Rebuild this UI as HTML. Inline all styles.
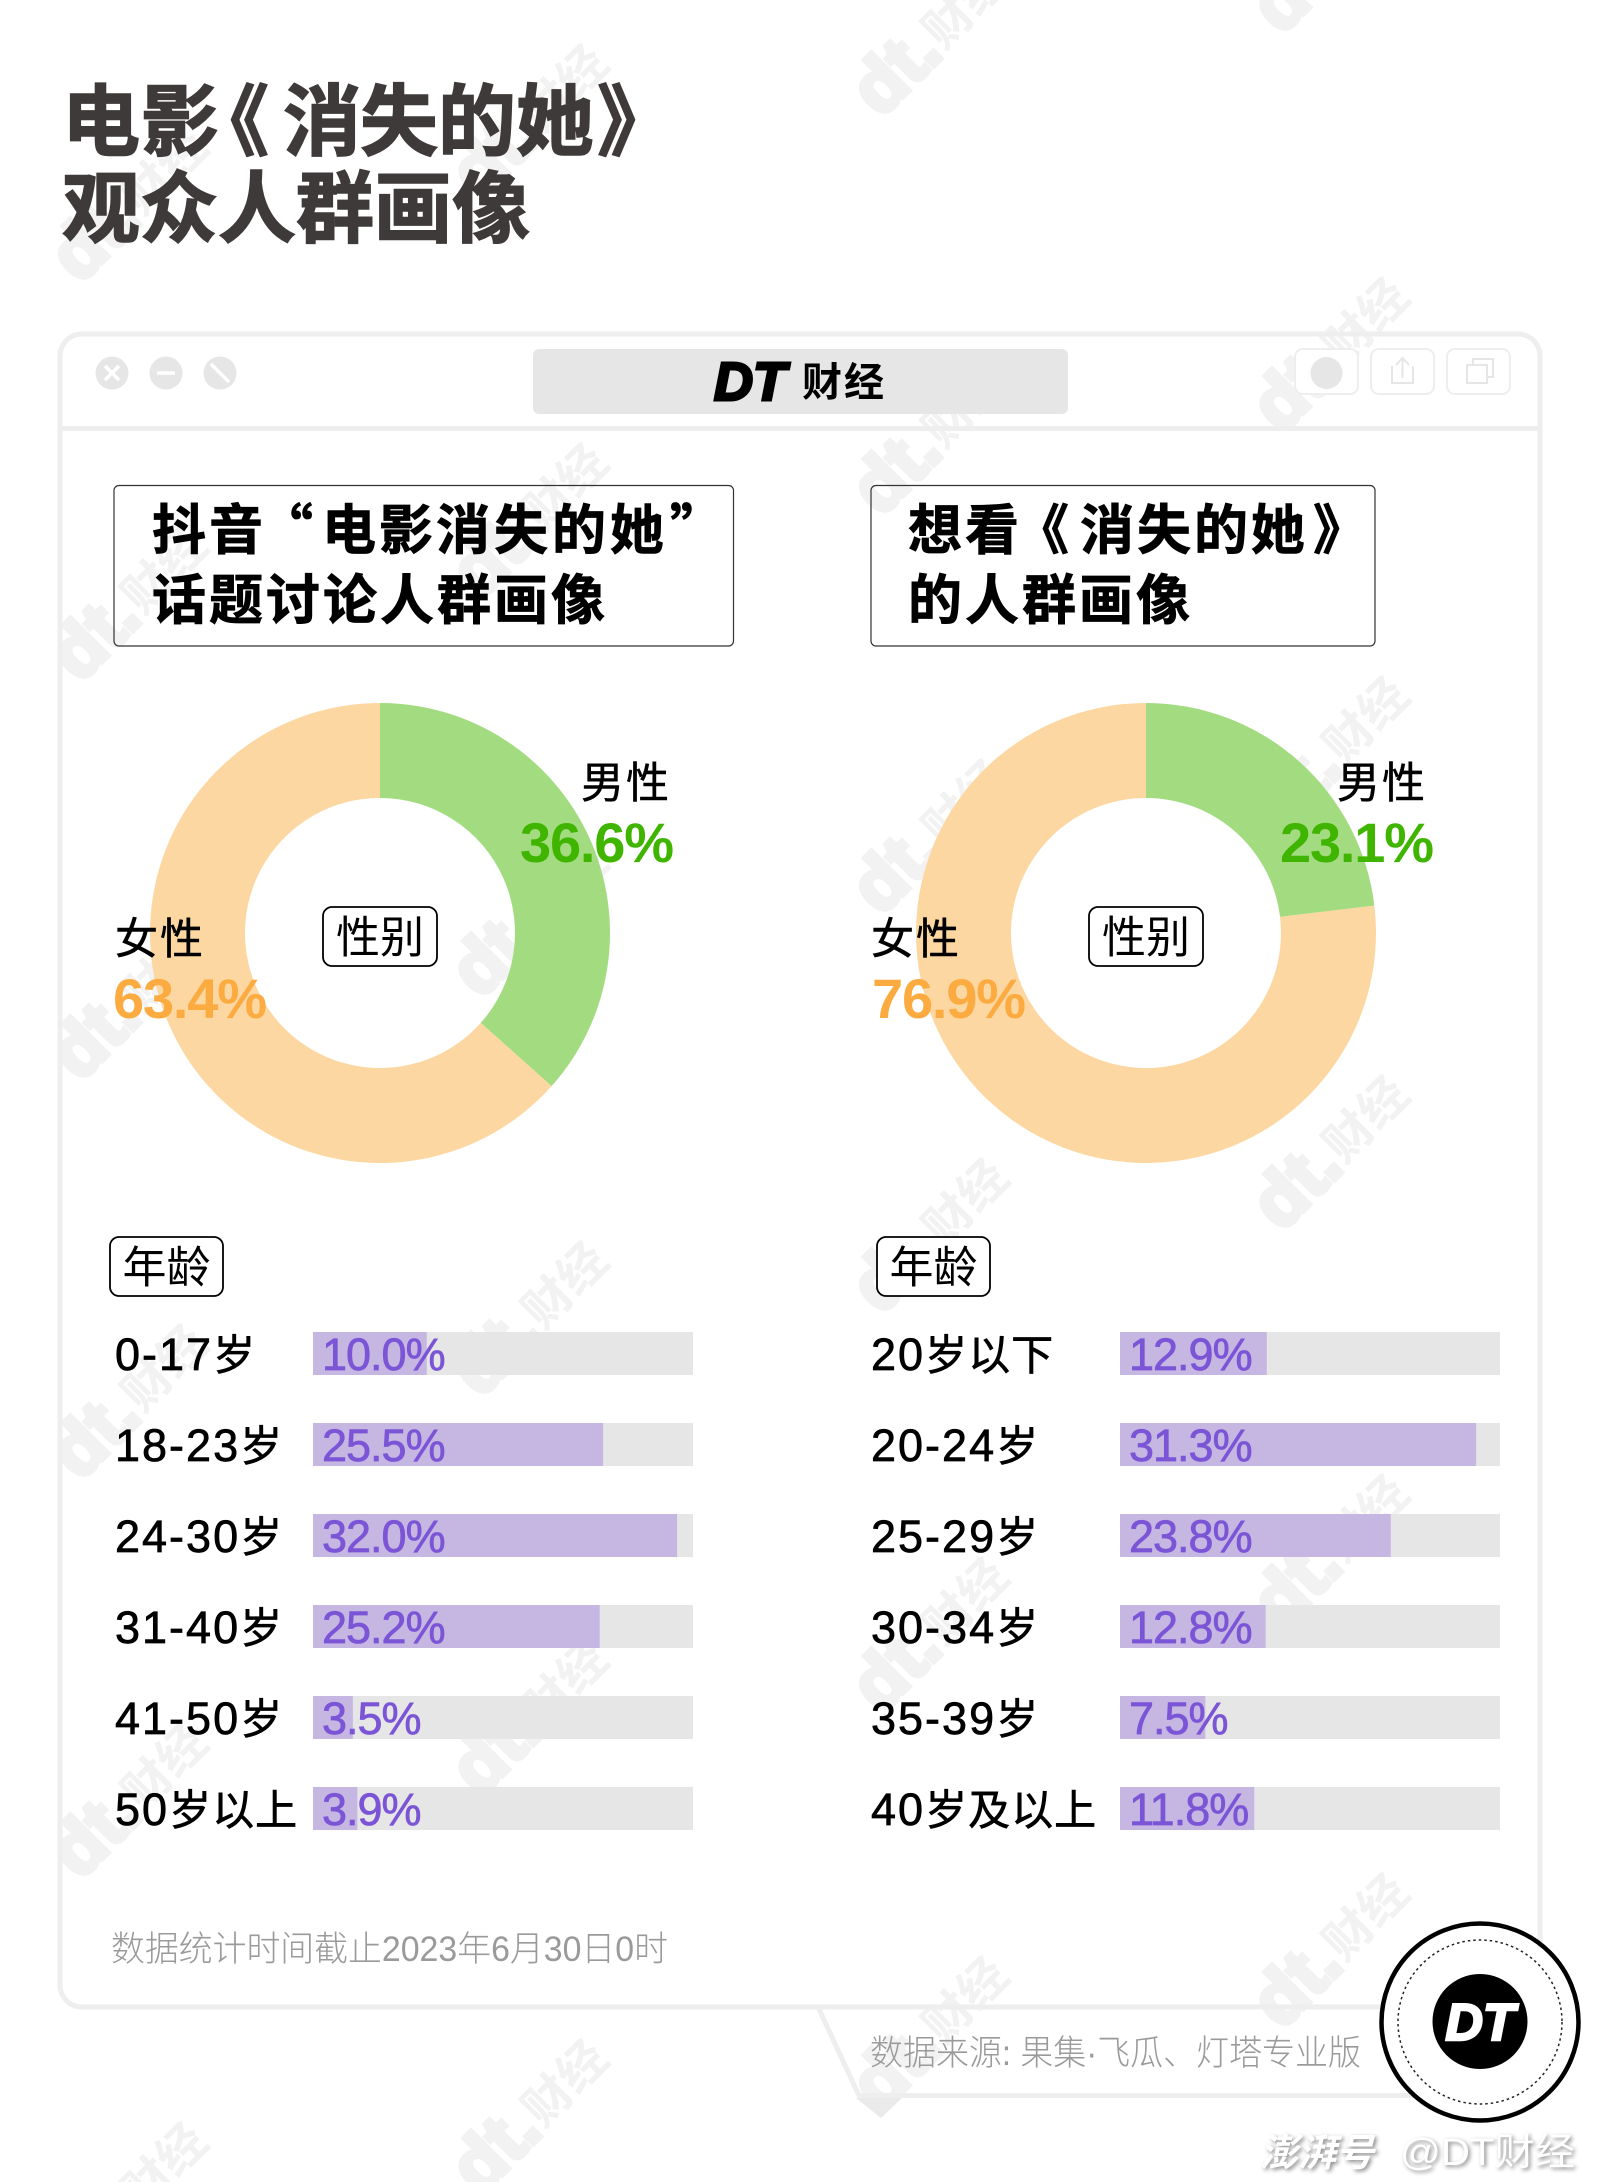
<!DOCTYPE html>
<html lang="zh">
<head>
<meta charset="utf-8">
<title>电影《消失的她》观众人群画像</title>
<style>
html,body{margin:0;padding:0;background:#fff;}
body{width:1601px;height:2182px;overflow:hidden;}
svg{display:block;}
text{font-family:"Liberation Sans","Noto Sans CJK SC",sans-serif;}
.cjk{font-family:"Noto Sans CJK SC","WenQuanYi Zen Hei",sans-serif;}
.heavy{font-family:"Noto Sans CJK SC",sans-serif;font-weight:700;}
.logo{font-family:"Liberation Sans",sans-serif;font-weight:700;font-style:italic;}
.thin{font-family:"Liberation Sans","Noto Sans CJK SC",sans-serif;font-weight:300;fill:#9a9a9a;}
</style>
</head>
<body>
<svg id="root" xmlns="http://www.w3.org/2000/svg" width="1601" height="2182" viewBox="0 0 1601 2182">
  <rect width="1601" height="2182" fill="#ffffff"/>

  <g id="watermarks"></g>

  <g class="heavy" fill="#3e3a39" stroke="#3e3a39" stroke-width="1.500" font-size="78">
    <text class="heavy" x="62 141 191 283 360 438 516 597" y="149">电影《消失的她》</text>
    <text class="heavy" x="62 140 218 296 374 452" y="236">观众人群画像</text>
  </g>

  <g>
    <rect x="60" y="334" width="1480" height="1673" rx="22" fill="none" stroke="#eeeeee" stroke-width="5"/>
    <line x1="60" y1="428.500" x2="1540" y2="428.500" stroke="#eeeeee" stroke-width="5"/>
    <g>
      <circle cx="112" cy="373" r="16.500" fill="#e6e6e6"/>
      <path d="M105 366l14 14M119 366l-14 14" stroke="#fff" stroke-width="3.500" fill="none"/>
    </g>
    <g>
      <circle cx="166" cy="373" r="16.500" fill="#e6e6e6"/>
      <path d="M157 373h18" stroke="#fff" stroke-width="3.500" fill="none"/>
    </g>
    <g>
      <circle cx="220" cy="373" r="16.500" fill="#e6e6e6"/>
      <path d="M211 364l18 18" stroke="#fff" stroke-width="3.500" fill="none"/>
    </g>
    <rect x="533" y="349" width="535" height="65" rx="6" fill="#e6e6e6"/>
    <text class="logo" x="714" y="400" font-size="54" fill="#000" stroke="#000" stroke-width="3">DT</text>
    <text class="heavy" x="802 844" y="396" font-size="40" fill="#000">财经</text>
    <g>
      <rect x="1295" y="349" width="63" height="45" rx="8" fill="#fff" stroke="#eeeeee" stroke-width="2"/>
      <circle cx="1326.500" cy="373" r="16" fill="#e6e6e6"/>
    </g>
    <g>
      <rect x="1371" y="349" width="63" height="45" rx="8" fill="#fff" stroke="#eeeeee" stroke-width="2"/>
      <path d="M1393 367h-1v16h21v-16h-1M1402.500 378v-19M1396 365l6.500-7 6.500 7" fill="none" stroke="#e6e6e6" stroke-width="2"/>
    </g>
    <g>
      <rect x="1447" y="349" width="63" height="45" rx="8" fill="#fff" stroke="#eeeeee" stroke-width="2"/>
      <path d="M1467 365h20v18h-20zM1473 365v-6h20v18h-6" fill="none" stroke="#e6e6e6" stroke-width="2"/>
    </g>
  </g>

  <g stroke="#000" stroke-width="0.800">
    <rect x="114" y="485.500" width="619.500" height="160.500" rx="5" fill="none" stroke="#333" stroke-width="1.200"/>
    <text class="heavy" x="152 209 259 322 379 436 494 552 610 670" y="549" font-size="54" fill="#000">抖音“电影消失的她”</text>
    <text class="heavy" x="152 209 266 323 380 437 494 551" y="619" font-size="54" fill="#000">话题讨论人群画像</text>
  </g>
  <g stroke="#000" stroke-width="0.800">
    <rect x="871" y="485.500" width="504" height="160.500" rx="5" fill="none" stroke="#333" stroke-width="1.200"/>
    <text class="heavy" x="908 965 1015 1080 1137 1194 1251 1313" y="549" font-size="54" fill="#000">想看《消失的她》</text>
    <text class="heavy" x="908 965 1022 1079 1136" y="619" font-size="54" fill="#000">的人群画像</text>
  </g>

  <g id="charts"></g>

  <text class="thin" x="111" y="1961" font-size="35" textLength="557" lengthAdjust="spacingAndGlyphs">数据统计时间截止2023年6月30日0时</text>

  <g>
    <path d="M818 2007L859 2095.500H1420" fill="none" stroke="#eeeeee" stroke-width="5"/>
    <path d="M856 2098H902L881 2118Z" fill="#eaeaea"/>
    <text class="thin" x="870" y="2065" font-size="35" textLength="491" lengthAdjust="spacingAndGlyphs">数据来源: 果集·飞瓜、灯塔专业版</text>
  </g>

  <g>
    <circle cx="1480" cy="2022" r="98.500" fill="#fff" stroke="#000" stroke-width="4.500"/>
    <circle cx="1480" cy="2022" r="82" fill="none" stroke="#222" stroke-width="1.500" stroke-dasharray="2.500 3"/>
    <circle cx="1480" cy="2021.500" r="47.500" fill="#000"/>
    <text class="logo" x="1480" y="2040" text-anchor="middle" font-size="52" fill="#fff" stroke="#fff" stroke-width="2.500">DT</text>
  </g>

  <g style="filter:drop-shadow(2px 2px 2px #8a8a8a)">
    <text class="heavy" x="1260" y="2166" font-size="38" font-style="italic" fill="#fff">澎湃号</text>
    <text x="1400" y="2165" font-size="38" fill="#fff" textLength="175" lengthAdjust="spacingAndGlyphs">@DT财经</text>
  </g>
</svg>

<script>
// ---- chart data ----
const genderNames = ['男性', '女性'];
const leftGender = [36.6, 63.4];
const rightGender = [23.1, 76.9];
const genderTitle = '性别';
const ageTitle = '年龄';
const leftAgeLabels = ['0-17岁', '18-23岁', '24-30岁', '31-40岁', '41-50岁', '50岁以上'];
const leftAgeValues = [10.0, 25.5, 32.0, 25.2, 3.5, 3.9];
const rightAgeLabels = ['20岁以下', '20-24岁', '25-29岁', '30-34岁', '35-39岁', '40岁及以上'];
const rightAgeValues = [12.9, 31.3, 23.8, 12.8, 7.5, 11.8];

const NS = 'http://www.w3.org/2000/svg';
const chartsRoot = document.getElementById('charts');

function make(tag, attrs, parent) {
  const el = document.createElementNS(NS, tag);
  Object.keys(attrs).forEach(function (k) { el.setAttribute(k, attrs[k]); });
  parent.appendChild(el);
  return el;
}

// axis functions
const barAxisMax = 33.4;
const barAxisWidth = 380;
function barWidth(v) { return v / barAxisMax * barAxisWidth; }
function donutAngle(v, total) { return v / total * Math.PI * 2; }
function polar(cx, cy, r, a) { return [cx + r * Math.sin(a), cy - r * Math.cos(a)]; }

function ringPath(cx, cy, R, r, a0, a1) {
  const large = a1 - a0 > Math.PI ? 1 : 0;
  const p0 = polar(cx, cy, R, a0), p1 = polar(cx, cy, R, a1);
  const p2 = polar(cx, cy, r, a1), p3 = polar(cx, cy, r, a0);
  return 'M' + p0[0] + ' ' + p0[1] + 'A' + R + ' ' + R + ' 0 ' + large + ' 1 ' + p1[0] + ' ' + p1[1] +
    'L' + p2[0] + ' ' + p2[1] + 'A' + r + ' ' + r + ' 0 ' + large + ' 0 ' + p3[0] + ' ' + p3[1] + 'Z';
}

// writes mixed text: Latin digits large, CJK slightly smaller
function fillMixed(textEl, str, latinSize, cjkSize) {
  (str.match(/[0-9\-.%]+|[^0-9\-.%]+/g) || []).forEach(function (part) {
    const isLatin = /^[0-9\-.%]/.test(part);
    const span = make('tspan', { 'font-size': isLatin ? latinSize : cjkSize, 'letter-spacing': isLatin ? 2 : 1 }, textEl);
    span.textContent = part;
  });
}

function tagBox(parent, x, y, w, h, label, fs) {
  const g = make('g', {}, parent);
  
  
  make('rect', { x: x, y: y, width: w, height: h, rx: 9, fill: '#fff', stroke: '#000', 'stroke-width': 1.8 }, g);
  const t = make('text', { class: 'cjk', x: x + w / 2, y: y + h / 2 + fs * 0.36, 'text-anchor': 'middle', 'font-size': fs, fill: '#000' }, g);
  t.textContent = label;
}

function drawDonut(parent, cx, values, nameX, pctX) {
  const cy = 933, R = 230, r = 135;
  const total = values[0] + values[1];
  const g = make('g', {}, parent);
  
  
  const split = donutAngle(values[0], total);
  const male = make('path', { d: ringPath(cx, cy, R, r, 0, split), fill: '#a3dc80' }, g);
  
  
  const female = make('path', { d: ringPath(cx, cy, R, r, split, Math.PI * 2), fill: '#fdd7a1' }, g);
  
  
  tagBox(g, cx - 57, 907, 114, 59, genderTitle, 44);

  const rows = [
    { name: genderNames[0], nx: nameX[0], ny: 798, px: pctX[0], py: 862, color: '#3fb500', v: values[0] },
    { name: genderNames[1], nx: nameX[1], ny: 954, px: pctX[1], py: 1018, color: '#fcab40', v: values[1] }
  ];
  rows.forEach(function (row) {
    const n = make('text', { class: 'cjk', x: row.nx, y: row.ny, 'font-size': 43, 'letter-spacing': 2, fill: '#000', stroke: '#000', 'stroke-width': 0.5 }, g);
    
    
    n.textContent = row.name;
    const p = make('text', { x: row.px, y: row.py, 'font-size': 56, 'font-weight': 700, 'letter-spacing': -1.2, fill: row.color }, g);
    
    
    p.textContent = row.v.toFixed(1) + '%';
  });
}

function drawBars(parent, labelX, trackX, tagX, labels, values) {
  const g = make('g', {}, parent);
  
  
  tagBox(g, tagX, 1237, 113, 59, ageTitle, 44);
  labels.forEach(function (label, i) {
    const y = 1332 + i * 91;
    const lab = make('text', { x: labelX, y: y + 38, fill: '#000', stroke: '#000', 'stroke-width': 0.7 }, g);
    
    
    fillMixed(lab, label, 45, 42);
    const track = make('rect', { x: trackX, y: y, width: barAxisWidth, height: 43, fill: '#e6e6e6' }, g);
    
    
    const bar = make('rect', { x: trackX, y: y, width: barWidth(values[i]), height: 43, fill: '#c6b6e2' }, g);
    
    
    const val = make('text', { x: trackX + 9, y: y + 38, 'font-size': 45, 'letter-spacing': -1, fill: '#7b55d6', stroke: '#7b55d6', 'stroke-width': 0.7 }, g);
    
    
    val.textContent = values[i].toFixed(1) + '%';
  });
}

drawDonut(chartsRoot, 380, leftGender, [581, 115], [520, 113]);
drawDonut(chartsRoot, 1146, rightGender, [1337, 871], [1280, 872]);
drawBars(chartsRoot, 115, 313, 110, leftAgeLabels, leftAgeValues);
drawBars(chartsRoot, 871, 1120, 877, rightAgeLabels, rightAgeValues);

// ---- repeating watermark ----
const wmRoot = document.getElementById('watermarks');
for (let col = 0; col < 5; col++) {
  for (let row = -1; row < 7; row++) {
    const tipX = 80 + 400.5 * col;
    const tipY = 285 - 83 * col + 399 * row;
    // only the pieces that reach into the frame are drawn
    const showDt = tipY - 100 < 2182 && tipY > -10 && tipX < 1601;
    const showName = tipY - 150 < 2182 && tipY - 65 > -60 && tipX + 65 < 1601;
    if (!showDt && !showName) continue;
    const wm = make('g', { transform: 'translate(' + tipX + ' ' + tipY + ') rotate(-45)', fill: '#f2f2f2' }, wmRoot);
    
    
    if (showDt) {
      const a = make('text', { x: 0, y: 0, 'font-size': 74, 'font-weight': 700, stroke: '#f2f2f2', 'stroke-width': 5 }, wm);
      a.textContent = 'dt.';
    }
    if (showName) {
      const b = make('text', { class: 'heavy', x: 92, y: -4, 'font-size': 48 }, wm);
      b.textContent = '财经';
    }
  }
}
</script>
</body>
</html>
